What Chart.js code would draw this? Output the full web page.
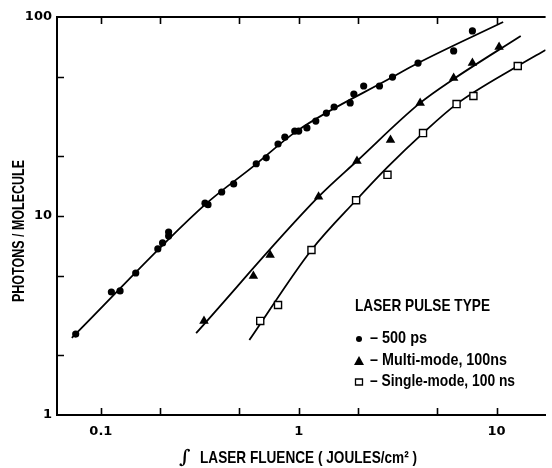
<!DOCTYPE html>
<html>
<head>
<meta charset="utf-8">
<title>Photons / molecule vs laser fluence</title>
<script src="https://cdn.jsdelivr.net/npm/chart.js"></script>
<style>
  html, body { margin: 0; padding: 0; background: #fff; }
  #box { width: 552px; height: 468px; position: relative; }
</style>
</head>
<body>
<div id="box"><canvas id="grafico"></canvas></div>
<script>
const fluence500 = [0.0746, 0.113, 0.125, 0.150, 0.194, 0.205, 0.220, 0.220, 0.336, 0.348, 0.408, 0.469, 0.610, 0.685, 0.786, 0.851, 0.955, 1.00, 1.10, 1.22, 1.38, 1.51, 1.82, 1.90, 2.13, 2.56, 2.98, 4.01, 6.07, 7.55]
const photons500 = [2.55, 4.15, 4.20, 5.17, 6.83, 7.32, 7.93, 8.31, 11.6, 11.4, 13.2, 14.5, 18.3, 19.6, 23.0, 24.9, 26.7, 26.7, 27.7, 30.0, 32.9, 35.3, 37.0, 41.0, 45.0, 45.0, 49.9, 58.7, 67.5, 85.1]

const fluenceMulti = [0.332, 0.590, 0.717, 1.26, 1.97, 2.91, 4.11, 6.07, 7.55, 10.3]
const photonsMulti = [2.97, 4.99, 6.37, 12.5, 18.9, 24.1, 37.0, 49.4, 58.7, 70.7]

const fluenceSingle = [0.639, 0.786, 1.16, 1.95, 2.81, 4.25, 6.28, 7.64, 12.8]
const photonsSingle = [2.97, 3.57, 6.75, 12.0, 16.1, 26.1, 36.5, 40.1, 56.7]

// curvas desenhadas a mao na figura
const fit500X = [0.0713, 0.336, 0.583, 0.977, 2.98, 4.01, 10.8]
const fit500Y = [2.44, 11.4, 17.6, 26.7, 49.9, 58.7, 94.4]
const fitMultiX = [0.303, 1.26, 1.97, 4.11, 6.07, 13.25]
const fitMultiY = [2.58, 12.5, 18.9, 37.0, 48.8, 80.3]
const fitSingleX = [0.563, 1.16, 1.95, 2.81, 4.25, 6.28, 12.8, 17.7]
const fitSingleY = [2.38, 6.75, 12.0, 17.6, 26.1, 36.5, 56.7, 68.3]

const xTicks = [0.1, 0.2, 0.5, 1, 2, 5, 10]
const yTicks = [1, 2, 5, 10, 20, 50, 100]
const xLabels = { 0.1: '0.1', 1: '1', 10: '10' }
const yLabels = { 1: '1', 10: '10', 100: '100' }

const xTitle = 'LASER FLUENCE ( JOULES/cm² )'
const yTitle = 'PHOTONS / MOLECULE'
const legendTitle = 'LASER PULSE TYPE'
const legendNames = ['– 500 ps', '– Multi-mode, 100ns', '– Single-mode, 100 ns']

const fonte = '"Liberation Sans", Arial, sans-serif'

function pares(xs, ys) {
    return xs.map((x, i) => ({ x: x, y: ys[i] }))
}

function curva(xs, ys) {
    return {
        data: pares(xs, ys),
        showLine: true,
        borderColor: '#000',
        borderWidth: 1.8,
        pointRadius: 0,
        cubicInterpolationMode: 'monotone',
        order: 2
    }
}

// texto "condensado": estica na horizontal ate a largura pedida
function estreito(ctx, txt, x, y, largura, size) {
    ctx.font = 'bold ' + size + 'px ' + fonte
    const k = largura / ctx.measureText(txt).width
    ctx.save()
    ctx.translate(x, y)
    ctx.scale(k, 1)
    ctx.fillText(txt, 0, 0)
    ctx.restore()
}

// ticks para dentro, moldura de cima, titulos e legenda
const moldura = {
    id: 'moldura',
    afterDraw(chart) {
        const ctx = chart.ctx
        const a = chart.chartArea
        const sx = chart.scales.x
        const sy = chart.scales.y
        ctx.save()
        ctx.strokeStyle = '#000'
        ctx.lineWidth = 2
        ctx.beginPath()
        ctx.moveTo(a.left, a.top)
        ctx.lineTo(a.right, a.top)
        ctx.stroke()

        ctx.lineWidth = 1.6
        ctx.beginPath()
        xTicks.forEach(v => {
            const px = Math.round(sx.getPixelForValue(v)) + 0.5
            ctx.moveTo(px, a.bottom)
            ctx.lineTo(px, a.bottom - 7)
            ctx.moveTo(px, a.top)
            ctx.lineTo(px, a.top + 7)
        })
        yTicks.slice(1, -1).forEach(v => {
            const py = Math.round(sy.getPixelForValue(v)) + 0.5
            ctx.moveTo(a.left, py)
            ctx.lineTo(a.left + 7, py)
        })
        ctx.stroke()

        ctx.fillStyle = '#000'
        ctx.textBaseline = 'middle'
        ctx.textAlign = 'left'

        // titulo do eixo x
        ctx.font = 'italic bold 19px "DejaVu Serif", serif'
        ctx.fillText('∫', 179, 458)
        estreito(ctx, xTitle, 200, 458, 217, 17)

        // titulo do eixo y (girado)
        ctx.save()
        ctx.translate(19, 231)
        ctx.rotate(-Math.PI / 2)
        estreito(ctx, yTitle, -71, 0, 142, 17)
        ctx.restore()

        // legenda
        const lx = 355
        estreito(ctx, legendTitle, lx, 306, 135, 17)
        const rows = [339, 361, 382]
        const larg = [57, 137, 145]
        rows.forEach((ry, i) => {
            const mx = lx + 4
            ctx.beginPath()
            if (i === 0) {
                ctx.arc(mx, ry, 3, 0, Math.PI * 2)
                ctx.fill()
            } else if (i === 1) {
                ctx.moveTo(mx, ry - 5)
                ctx.lineTo(mx + 5, ry + 4)
                ctx.lineTo(mx - 5, ry + 4)
                ctx.closePath()
                ctx.fill()
            } else {
                ctx.lineWidth = 1.3
                ctx.rect(mx - 3.5, ry - 3, 7, 6)
                ctx.stroke()
            }
            estreito(ctx, legendNames[i], lx + 15, ry, larg[i], 16)
        })
        ctx.restore()
    }
}

const grafico = new Chart(document.getElementById('grafico'), {
    type: 'scatter',
    data: {
        datasets: [
            curva(fit500X, fit500Y),
            curva(fitMultiX, fitMultiY),
            curva(fitSingleX, fitSingleY),
            {
                data: pares(fluence500, photons500),
                pointStyle: 'circle',
                pointRadius: 3.6,
                backgroundColor: '#000',
                borderColor: '#000',
                borderWidth: 0,
                order: 1
            },
            {
                data: pares(fluenceMulti, photonsMulti),
                pointStyle: 'triangle',
                pointRadius: 5.5,
                backgroundColor: '#000',
                borderColor: '#000',
                borderWidth: 0,
                order: 1
            },
            {
                data: pares(fluenceSingle, photonsSingle),
                pointStyle: 'rect',
                pointRadius: 5,
                backgroundColor: '#fff',
                borderColor: '#000',
                borderWidth: 1.4,
                order: 1
            }
        ]
    },
    options: {
        responsive: true,
        maintainAspectRatio: false,
        animation: false,
        layout: { padding: { top: 17, right: 0, left: 0, bottom: 0 } },
        plugins: {
            legend: { display: false },
            tooltip: { enabled: false }
        },
        scales: {
            x: {
                type: 'logarithmic',
                position: 'bottom',
                min: 0.06,
                max: 17.7,
                afterBuildTicks: s => { s.ticks = xTicks.map(v => ({ value: v })) },
                afterFit: s => { s.height = 53 },
                grid: { display: false, drawTicks: false },
                border: { display: true, color: '#000', width: 2 },
                ticks: {
                    color: '#000',
                    padding: 9,
                    autoSkip: false,
                    maxRotation: 0,
                    font: { family: '"DejaVu Sans", sans-serif', size: 13, weight: 'bold' },
                    callback: v => xLabels[v] || ''
                }
            },
            y: {
                type: 'logarithmic',
                position: 'left',
                min: 1,
                max: 100,
                afterBuildTicks: s => { s.ticks = yTicks.map(v => ({ value: v })) },
                afterFit: s => { s.width = 57 },
                grid: { display: false, drawTicks: false },
                border: { display: true, color: '#000', width: 2 },
                ticks: {
                    color: '#000',
                    padding: 5,
                    autoSkip: false,
                    font: { family: '"DejaVu Sans", sans-serif', size: 13, weight: 'bold' },
                    callback: v => yLabels[v] || ''
                }
            }
        }
    },
    plugins: [moldura]
})
</script>
</body>
</html>
